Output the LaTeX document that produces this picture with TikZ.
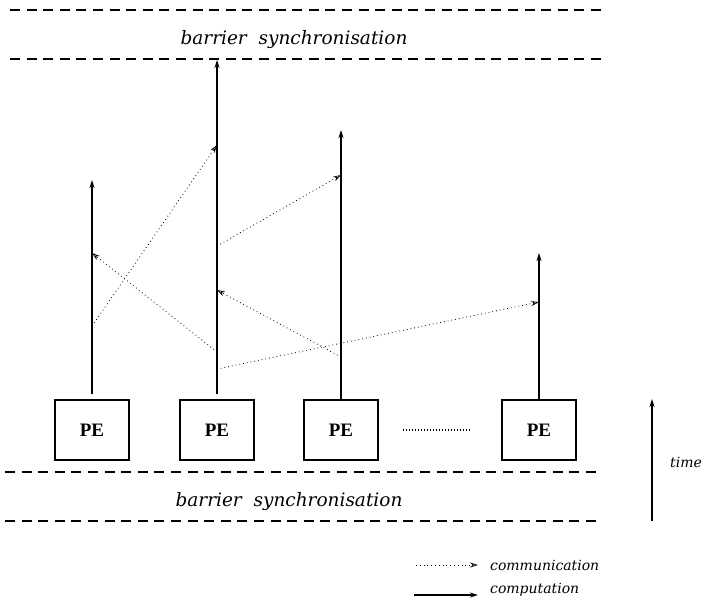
\documentclass[tikz,border=0pt]{standalone}
\usepackage{fontspec}
\setmainfont{Liberation Serif}
\newfontfamily\labelfont{DejaVu Serif}
\usetikzlibrary{arrows.meta,positioning}

\begin{document}
\begin{tikzpicture}[
   x=1pt, y=-1pt,
   node distance=51pt,
   pe/.style={rectangle, draw, line width=1.5pt, minimum width=74pt,
              minimum height=60pt, inner sep=0pt, outer sep=0pt,
              font=\fontsize{19}{22}\selectfont\bfseries},
   lbl/.style={font=\labelfont\itshape\fontsize{18.5}{21}\selectfont, inner sep=0pt},
   small/.style={font=\labelfont\itshape\fontsize{14}{16}\selectfont, inner sep=0pt},
   barrier/.style={line width=1.6pt, dash pattern=on 10pt off 6.6pt},
   comp/.style={-{Stealth[length=8pt,width=5pt]}, line width=1.6pt},
   comm/.style={-{Stealth[open,length=8pt,width=5pt,line width=0.7pt]},
                line width=0.8pt, dash pattern=on 0.8pt off 3pt}
]
\useasboundingbox (0,0) rectangle (710,604);

% Barriers
\draw[barrier] (10,10) -- (605,10);
\draw[barrier] (10,59) -- (605,59);
\node[lbl] (top) at (294,40) {barrier\ \ synchronisation};
\draw[barrier] (5,472) -- (598,472);
\draw[barrier] (5,521) -- (598,521);
\node[lbl] (bottom) at (289,502) {barrier\ \ synchronisation};

% Processing elements
\node[pe] (pe1) at (92,430) {PE};
\node[pe, right=of pe1] (pe2) {PE};
\node[pe, right=50pt of pe2] (pe3) {PE};
\node[pe, right=124pt of pe3] (pe4) {PE};
\draw[line width=1.2pt, dash pattern=on 1.2pt off 1.8pt]
   ([xshift=25pt]pe3.east) -- ([xshift=-31pt]pe4.west);

% Computation
\coordinate (top1) at (0,180);
\coordinate (top2) at (0,60);
\coordinate (top3) at (0,130);
\coordinate (top4) at (0,253);
\draw[comp] ([yshift=6pt]pe1.north) -- (pe1.north |- top1);
\draw[comp] ([yshift=6pt]pe2.north) -- (pe2.north |- top2);
\draw[comp] (pe3.north) -- (pe3.north |- top3);
\draw[comp] (pe4.north) -- (pe4.north |- top4);

% Communication
\coordinate (s1) at (92,326);  \coordinate (r1) at (92,253);
\coordinate (s2a) at (217,246); \coordinate (s2b) at (217,352);
\coordinate (s2c) at (217,369); \coordinate (r2a) at (217,145);
\coordinate (r2b) at (217,290);
\coordinate (s3) at (341,357);  \coordinate (r3) at (341,175);
\coordinate (r4) at (539,302);
\draw[comm] (s1) -- (r2a);
\draw[comm] (s2b) -- (r1);
\draw[comm] (s2a) -- (r3);
\draw[comm] (s3) -- (r2b);
\draw[comm] (s2c) -- (r4);

% Time axis
\coordinate (t0) at (652,521);
\coordinate (t1) at (652,399);
\draw[comp] (t0) -- (t1);
\node[small, anchor=west] (time) at (670,462) {time};

% Legend
\coordinate (c0) at (416,565); \coordinate (c1) at (478,565);
\coordinate (p0) at (414,595); \coordinate (p1) at (478,595);
\draw[comm] (c0) -- (c1);
\draw[comp, line width=1.4pt] (p0) -- (p1);
\node[small, anchor=west] (commlbl) at (490,565) {communication};
\node[small, anchor=west] (complbl) at (490,590) {computation};
\end{tikzpicture}
\end{document}
